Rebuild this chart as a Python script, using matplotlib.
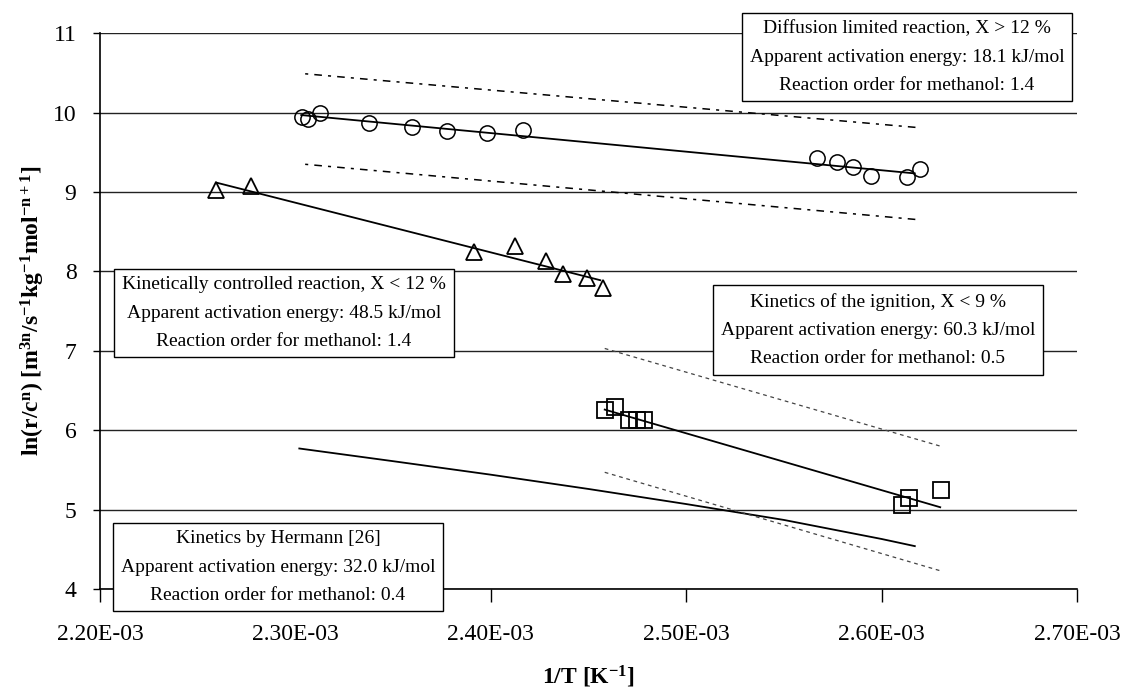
import numpy as np
import matplotlib.pyplot as plt

plt.rcParams['font.family'] = ['Liberation Serif', 'DejaVu Serif']
plt.rcParams['mathtext.fontset'] = 'custom'
plt.rcParams['mathtext.rm'] = 'Liberation Serif'
plt.rcParams['mathtext.bf'] = 'Liberation Serif:bold'
plt.rcParams['mathtext.it'] = 'Liberation Serif:italic'

# diffusion limited (circles)
diff_x = [2.3032e-3, 2.3064e-3, 2.3126e-3, 2.3377e-3, 2.3597e-3, 2.3776e-3, 2.3980e-3, 2.4165e-3,
          2.5671e-3, 2.5773e-3, 2.5855e-3, 2.5944e-3, 2.6128e-3, 2.6197e-3]
diff_y = [9.94, 9.92, 10.00, 9.87, 9.82, 9.77, 9.75, 9.78,
          9.43, 9.38, 9.31, 9.20, 9.19, 9.29]
diff_fit_x = [2.303e-3, 2.617e-3]
diff_fit_y = [9.97, 9.235]
diff_upper_x = [2.305e-3, 2.6197e-3]
diff_upper_y = [10.49, 9.81]
diff_lower_x = [2.305e-3, 2.6197e-3]
diff_lower_y = [9.35, 8.65]

# kinetically controlled (triangles)
kin_x = [2.2594e-3, 2.2771e-3, 2.3912e-3, 2.4124e-3, 2.4281e-3, 2.4368e-3, 2.4494e-3, 2.4576e-3]
kin_y = [9.03, 9.08, 8.25, 8.32, 8.13, 7.97, 7.92, 7.79]
kin_fit_x = [2.2594e-3, 2.456e-3]
kin_fit_y = [9.12, 7.89]

# ignition (squares)
ign_x = [2.4583e-3, 2.4634e-3, 2.4707e-3, 2.4748e-3, 2.4784e-3, 2.6103e-3, 2.6141e-3, 2.6303e-3]
ign_y = [6.26, 6.29, 6.13, 6.13, 6.13, 5.06, 5.15, 5.25]
ign_fit_x = [2.4583e-3, 2.630e-3]
ign_fit_y = [6.26, 5.03]
ign_upper_x = [2.4583e-3, 2.630e-3]
ign_upper_y = [7.03, 5.80]
ign_lower_x = [2.4583e-3, 2.630e-3]
ign_lower_y = [5.47, 4.23]

# Hermann kinetics
herm_x = [2.302e-3, 2.35e-3, 2.40e-3, 2.45e-3, 2.50e-3, 2.55e-3, 2.60e-3, 2.617e-3]
herm_y = [5.77, 5.61, 5.44, 5.26, 5.07, 4.87, 4.63, 4.54]

x_ticks = [2.2e-3, 2.3e-3, 2.4e-3, 2.5e-3, 2.6e-3, 2.7e-3]
y_ticks = [4, 5, 6, 7, 8, 9, 10, 11]

boxes = [
    "Diffusion limited reaction, X > 12 %\nApparent activation energy: 18.1 kJ/mol\nReaction order for methanol: 1.4",
    "Kinetically controlled reaction, X < 12 %\nApparent activation energy: 48.5 kJ/mol\nReaction order for methanol: 1.4",
    "Kinetics of the ignition, X < 9 %\nApparent activation energy: 60.3 kJ/mol\nReaction order for methanol: 0.5",
    "Kinetics by Hermann [26]\nApparent activation energy: 32.0 kJ/mol\nReaction order for methanol: 0.4",
]
# box centres in pixels of the figure
box_pos = [(907, 57), (284, 313), (878, 330), (278, 567)]

W, H = 1126, 693
fig = plt.figure(figsize=(W / 100, H / 100), dpi=100)
ax = fig.add_axes([100 / W, 1 - 589 / H, 977 / W, (589 - 33.3) / H])

for y in y_ticks:
    ax.axhline(y, color='#222222', lw=1.0, zorder=0)

ms = 11
ax.plot(diff_x, diff_y, 'o', mfc='none', mec='black', ms=ms, mew=1.1, zorder=3)
ax.plot(kin_x, kin_y, '^', mfc='none', mec='black', ms=ms + 1, mew=1.3, zorder=3)
ax.plot(ign_x, ign_y, 's', mfc='none', mec='black', ms=ms, mew=1.3, zorder=3)

ax.plot(diff_fit_x, diff_fit_y, color='black', lw=1.3)
ax.plot(kin_fit_x, kin_fit_y, color='black', lw=1.3)
ax.plot(ign_fit_x, ign_fit_y, color='black', lw=1.3)
ax.plot(herm_x, herm_y, color='black', lw=1.3)

ax.plot(diff_upper_x, diff_upper_y, color='black', lw=1.1, ls=(0, (2, 4, 5, 4)))
ax.plot(diff_lower_x, diff_lower_y, color='black', lw=1.1, ls=(0, (2, 4, 5, 4)))
ax.plot(ign_upper_x, ign_upper_y, color='#444444', lw=0.9, ls=(0, (3, 3)))
ax.plot(ign_lower_x, ign_lower_y, color='#444444', lw=0.9, ls=(0, (3, 3)))

ax.set_xlim(2.2e-3, 2.7e-3)
ax.set_ylim(4, 11)
ax.set_xticks(x_ticks)
ax.set_xticklabels([f"{v:.2E}" for v in x_ticks])
ax.set_yticks(y_ticks)
ax.tick_params(axis='x', direction='out', length=9, width=1, pad=16, labelsize=17)
ax.tick_params(axis='y', direction='out', length=5, width=1, pad=12, labelsize=17)
for s in ['top', 'right']:
    ax.spines[s].set_visible(False)
ax.spines['left'].set_linewidth(1.2)
ax.spines['bottom'].set_linewidth(1.2)

ax.set_xlabel(r"1/T [K$^\mathbf{-1}$]", fontsize=17, fontweight='bold', labelpad=14)
ax.set_ylabel(r"ln(r/c$^\mathbf{n}$) [m$^\mathbf{3n}$/s$^\mathbf{-1}$kg$^\mathbf{-1}$mol$^\mathbf{-n+1}$]",
              fontsize=17, fontweight='bold', labelpad=4)

for txt, (px, py) in zip(boxes, box_pos):
    fig.text(px / W, 1 - py / H, txt, ha='center', va='center', multialignment='center',
             fontsize=14, linespacing=1.85, zorder=5,
             bbox=dict(boxstyle='square,pad=0.4', fc='white', ec='black', lw=1.0))

fig.savefig('out.png', dpi=100)
